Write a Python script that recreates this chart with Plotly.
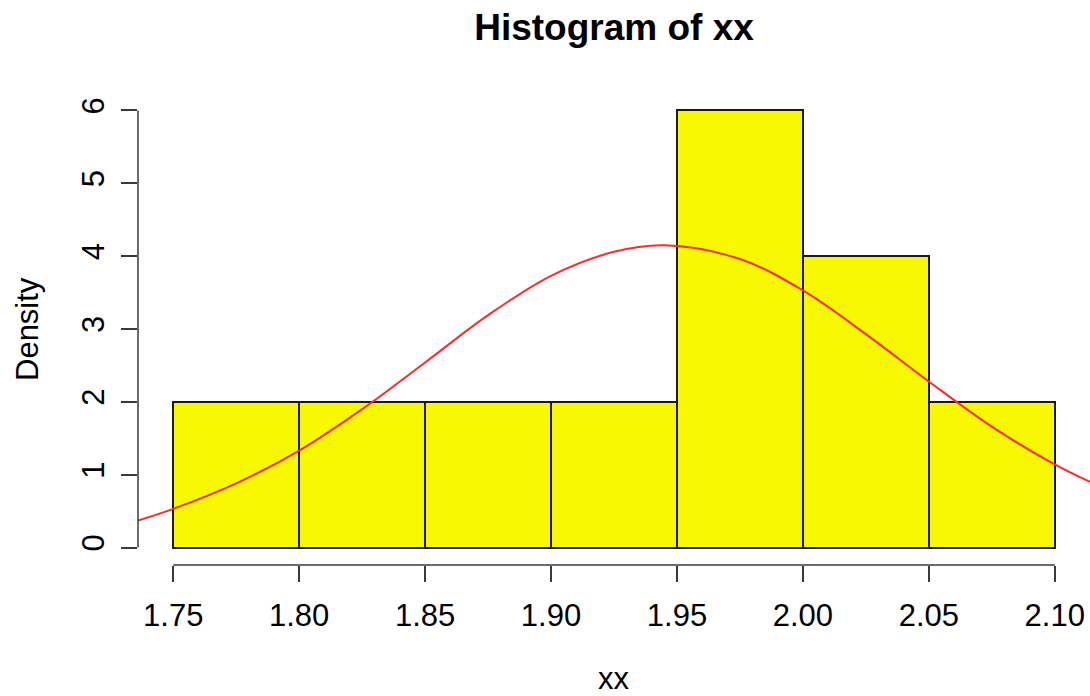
import plotly.graph_objects as go

# Histogram data
breaks = [1.75, 1.80, 1.85, 1.90, 1.95, 2.00, 2.05, 2.10]
density = [2, 2, 2, 2, 6, 4, 2]

# Red density curve
curve_x = [1.736, 1.75, 1.775, 1.80, 1.825, 1.85, 1.875, 1.90, 1.925, 1.945,
           1.975, 2.00, 2.025, 2.05, 2.075, 2.10, 2.114]
curve_y = [0.37, 0.53, 0.88, 1.33, 1.90, 2.54, 3.19, 3.73, 4.06, 4.15,
           3.96, 3.53, 2.93, 2.28, 1.66, 1.14, 0.90]

x_ticks = [1.75, 1.80, 1.85, 1.90, 1.95, 2.00, 2.05, 2.10]
x_ticktext = ["1.75", "1.80", "1.85", "1.90", "1.95", "2.00", "2.05", "2.10"]
y_ticks = [0, 1, 2, 3, 4, 5, 6]

mids = [(a + b) / 2 for a, b in zip(breaks[:-1], breaks[1:])]
widths = [b - a for a, b in zip(breaks[:-1], breaks[1:])]

FONT = "Liberation Sans, Arial, Helvetica, sans-serif"
AX = "#3a3a3a"

fig = go.Figure()
fig.add_trace(go.Bar(x=mids, y=density, width=widths,
                     marker=dict(color="#F8F800", line=dict(color="#1a1a1a", width=2)),
                     showlegend=False, hoverinfo="skip"))
fig.add_trace(go.Scatter(x=curve_x, y=curve_y, mode="lines",
                         line=dict(color="#FF2A2A", width=2, shape="spline", smoothing=1.0),
                         showlegend=False, hoverinfo="skip", cliponaxis=False))

xr = [1.736, 2.114]
yr = [-0.24, 6.24]

fig.update_layout(
    width=1090, height=696,
    margin=dict(l=138, r=0, t=92.5, b=130.5),
    paper_bgcolor="white", plot_bgcolor="white",
    bargap=0,
    font=dict(family=FONT, size=31, color="black"),
    title=dict(text="<b>Histogram of xx</b>", x=0.5, xref="paper", y=1 - 27 / 696,
               yref="container", xanchor="center", yanchor="middle",
               font=dict(family=FONT, size=37, color="black")),
    xaxis=dict(range=xr, tickvals=x_ticks, ticktext=x_ticktext, ticks="outside",
               ticklen=16, tickwidth=1.5, tickcolor=AX, showline=False,
               showgrid=False, zeroline=False, tickfont=dict(size=31),
               ticklabelstandoff=7),
    yaxis=dict(range=yr, tickvals=y_ticks, ticks="outside", ticklen=16,
               tickwidth=1.5, tickcolor=AX, showline=False, showgrid=False,
               zeroline=False, tickangle=-90, tickfont=dict(size=31),
               ticklabelstandoff=5),
    annotations=[
        dict(text="xx", xref="paper", yref="paper", x=0.5, y=0, yshift=-113,
             xanchor="center", yanchor="middle", showarrow=False,
             font=dict(family=FONT, size=31)),
        dict(text="Density", xref="paper", yref="paper", x=0, xshift=-111, y=0.5,
             xanchor="center", yanchor="middle", textangle=-90, showarrow=False,
             font=dict(family=FONT, size=31)),
    ],
    shapes=[
        dict(type="line", xref="x", yref="paper", x0=x_ticks[0], x1=x_ticks[-1],
             y0=0, y1=0, line=dict(color=AX, width=1.5)),
        dict(type="line", xref="paper", yref="y", x0=0, x1=0,
             y0=y_ticks[0], y1=y_ticks[-1], line=dict(color=AX, width=1.5)),
    ],
)

fig.write_html("out.html")
